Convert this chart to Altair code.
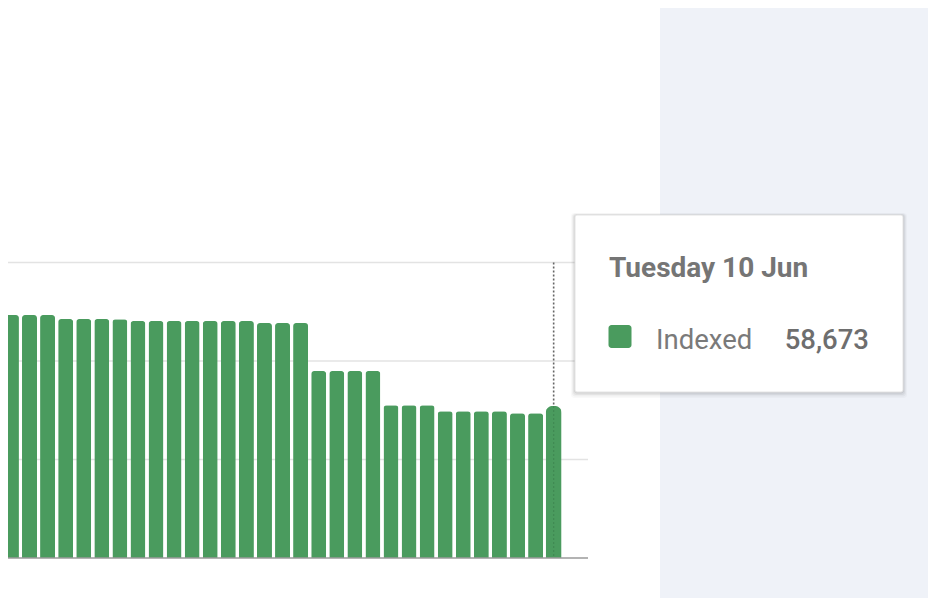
import altair as alt
import pandas as pd

# ---- data ----
DATES = [
    "2025-05-10", "2025-05-11", "2025-05-12", "2025-05-13", "2025-05-14", "2025-05-15",
    "2025-05-16", "2025-05-17", "2025-05-18", "2025-05-19", "2025-05-20", "2025-05-21",
    "2025-05-22", "2025-05-23", "2025-05-24", "2025-05-25", "2025-05-26", "2025-05-27",
    "2025-05-28", "2025-05-29", "2025-05-30", "2025-05-31", "2025-06-01", "2025-06-02",
    "2025-06-03", "2025-06-04", "2025-06-05", "2025-06-06", "2025-06-07", "2025-06-08",
    "2025-06-09", "2025-06-10",
]
INDEXED = [
    93700, 93750, 93750, 93720, 92200, 92180, 92200, 92150,
    91430, 91430, 91400, 91430, 91420, 91430, 91400, 90660,
    90650, 90660, 72140, 72140, 72140, 72130, 58900, 58900,
    58910, 56600, 56600, 56590, 56600, 55850, 55840, 58673,
]
GRID_VALUES = [38000, 76000, 114000]
TOOLTIP_TITLE = "Tuesday 10 Jun"
SERIES_NAME = "Indexed"

GREEN = "#4a9b5e"
GREY_TEXT = "#757575"
PANEL = "#eff2f8"

df = pd.DataFrame({
    "date": DATES,
    "value": INDEXED,
    "idx": list(range(-1, len(DATES) - 1)),
})
last = df.iloc[[-1]].copy()
last["top"] = GRID_VALUES[-1]
last["title"] = TOOLTIP_TITLE
last["series"] = SERIES_NAME
grid_df = pd.DataFrame({"v": GRID_VALUES})
base_df = pd.DataFrame({"v": [0]})
one = pd.DataFrame({"k": [0]})

xs = alt.Scale(domain=[-0.19, 31.9], nice=False, zero=False, padding=0)
ys = alt.Scale(domain=[0, 212200], nice=False, padding=0)

panel = alt.Chart(one).mark_rect(color=PANEL).encode(
    x=alt.value(652), x2=alt.value(930), y=alt.value(-10), y2=alt.value(610)
)

grid = alt.Chart(grid_df).mark_rule(color="#e3e3e3", strokeWidth=1.3).encode(
    y=alt.Y("v:Q", scale=ys, axis=None)
)

bars = alt.Chart(df).transform_filter("datum.idx < 30").mark_bar(
    size=15, color=GREEN, cornerRadiusTopLeft=3, cornerRadiusTopRight=3
).encode(
    x=alt.X("idx:Q", scale=xs, axis=None),
    y=alt.Y("value:Q", scale=ys, axis=None),
)

hover_bar = alt.Chart(last).mark_bar(
    size=16, color=GREEN, cornerRadiusTopLeft=7, cornerRadiusTopRight=7
).encode(
    x=alt.X("idx:Q", scale=xs, axis=None),
    y=alt.Y("value:Q", scale=ys, axis=None),
)

guide_top = alt.Chart(last).mark_rule(
    color="#666666", strokeDash=[2, 2], strokeWidth=1.6
).encode(
    x=alt.X("idx:Q", scale=xs, axis=None),
    y=alt.Y("top:Q", scale=ys, axis=None),
    y2="value:Q",
)
guide_in = alt.Chart(last).mark_rule(
    color="#2f6b3f", strokeDash=[2, 2], strokeWidth=1.2, opacity=0.35
).encode(
    x=alt.X("idx:Q", scale=xs, axis=None),
    y=alt.Y("value:Q", scale=ys, axis=None),
    y2=alt.datum(0),
)

baseline = alt.Chart(base_df).mark_rule(color="#9a9a9a", strokeWidth=1.5).encode(
    y=alt.Y("v:Q", scale=ys, axis=None)
)

# tooltip box with soft shadow
shadows = []
for grow, op, dy in [(4, 0.025, 2), (3, 0.035, 1.5), (2, 0.05, 1), (1, 0.07, 0.5)]:
    shadows.append(
        alt.Chart(one).mark_rect(color="#000000", opacity=op, cornerRadius=3).encode(
            x=alt.value(567 - grow), x2=alt.value(895 + grow),
            y=alt.value(207 - grow + dy), y2=alt.value(384 + grow + dy),
        )
    )
box = alt.Chart(one).mark_rect(
    color="#ffffff", stroke="#e4e4e4", strokeWidth=1, cornerRadius=2
).encode(x=alt.value(567), x2=alt.value(895), y=alt.value(207), y2=alt.value(384))

title = alt.Chart(last).mark_text(
    align="left", baseline="alphabetic", font="Roboto", fontSize=28,
    fontWeight="bold", color=GREY_TEXT,
).encode(x=alt.value(601), y=alt.value(269), text="title:N")

swatch = alt.Chart(one).mark_rect(color=GREEN, cornerRadius=3).encode(
    x=alt.value(600.5), x2=alt.value(623.5), y=alt.value(317), y2=alt.value(340)
)

label = alt.Chart(last).mark_text(
    align="left", baseline="alphabetic", font="Roboto", fontSize=27.5,
    fontWeight="normal", color="#7a7a7a",
).encode(x=alt.value(648), y=alt.value(341), text="series:N")

value_text = alt.Chart(last).mark_text(
    align="right", baseline="alphabetic", font="Roboto", fontSize=27.5,
    fontWeight=500, color="#6e6e6e",
).encode(x=alt.value(861), y=alt.value(341), text=alt.Text("value:Q", format=","))

chart = alt.layer(
    panel, grid, bars, hover_bar, guide_in, guide_top, baseline,
    *shadows, box, title, swatch, label, value_text,
).properties(
    width=580, height=550,
    autosize=alt.AutoSizeParams(type="none"),
    padding={"left": 0, "top": 0, "right": 340, "bottom": 40},
).configure(
    background="#ffffff",
    view=alt.ViewConfig(stroke=None),
)

chart.save("out.html", embed_options={"renderer": "svg", "actions": False})
